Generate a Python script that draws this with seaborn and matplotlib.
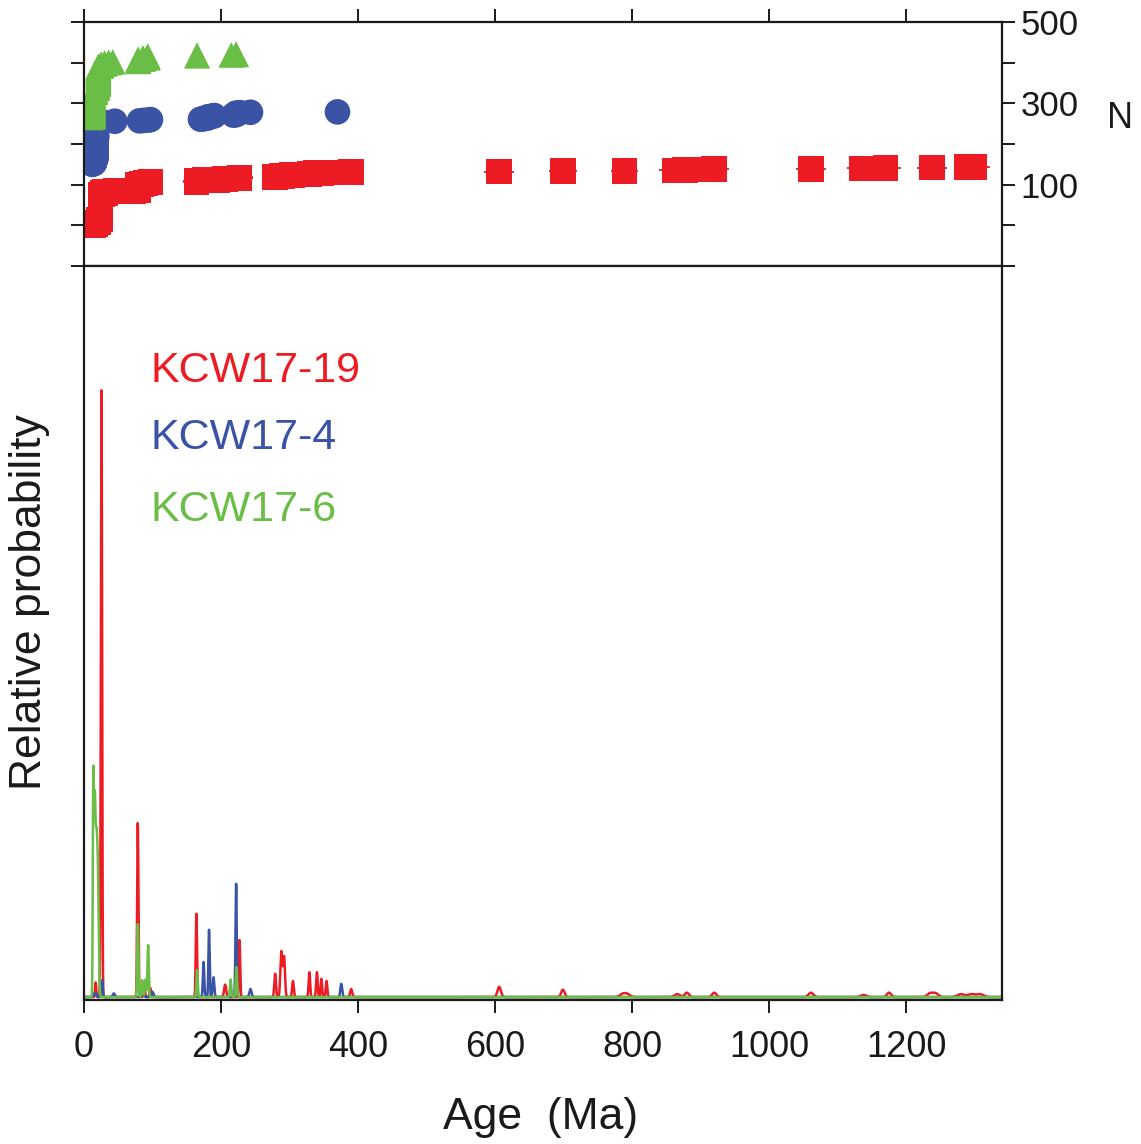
import numpy as np
import pandas as pd
import matplotlib.pyplot as plt
import seaborn as sns

plt.switch_backend('Agg')

SAMPLES = ['KCW17-19', 'KCW17-4', 'KCW17-6']
COLORS = {'KCW17-19': '#ED1C24', 'KCW17-4': '#3A53A4', 'KCW17-6': '#6ABD45'}
MARKERS = {'KCW17-19': 's', 'KCW17-4': 'o', 'KCW17-6': '^'}

# --- top panel: grain ages (Ma), grains at that age, error bar half-length (Ma)
red_ages = [13, 17, 21, 24, 27, 31, 38, 46, 72, 79, 84, 90, 97,
            164, 176, 195, 206, 222, 227, 279, 289, 304, 329, 339, 346, 354, 390,
            606, 699, 789, 862, 877, 905, 920, 1061, 1136, 1170, 1238, 1288, 1300]
red_counts = [3, 4, 6, 62, 4, 3, 1, 1, 2, 14, 2, 2, 2,
              4, 1, 1, 2, 1, 3, 2, 3, 1, 2, 2, 1, 1, 1,
              1, 1, 1, 1, 1, 1, 1, 1, 1, 1, 1, 1, 1]
red_err = [1, 1, 1, 1, 1, 1, 2, 2, 3, 3, 3, 3, 3,
           20, 8, 8, 8, 8, 20, 18, 8, 8, 8, 8, 8, 8, 18,
           22, 20, 20, 22, 10, 10, 22, 22, 22, 22, 22, 10, 22]

blue_ages = [12, 15, 17, 18, 21, 26, 45, 81, 87, 94, 97,
             170, 175, 181, 186, 190, 218, 222, 228, 243, 370]
blue_counts = [2, 10, 50, 40, 3, 1, 1, 1, 1, 1, 1,
               1, 2, 4, 1, 2, 1, 5, 1, 1, 1]
blue_err = [1, 1, 1, 1, 1, 1, 14, 10, 4, 4, 10,
            12, 4, 4, 4, 4, 4, 4, 4, 14, 18]

green_ages = [10, 13, 16, 19, 21, 25, 30, 36, 42, 79, 86, 93, 165, 215, 222]
green_counts = [2, 60, 10, 10, 45, 5, 3, 2, 1, 6, 3, 5, 2, 1, 2]
green_err = [1, 1, 1, 1, 1, 1, 1, 2, 2, 3, 3, 3, 8, 4, 4]

N_START = {'KCW17-19': 1, 'KCW17-4': 150, 'KCW17-6': 265}

# --- bottom panel: peaks of the probability curves (Ma, relative height, width Ma)
red_peak_age = [17, 25.5, 78.5, 88, 97, 164, 206, 227, 279, 288, 292, 305,
                329, 340, 346.5, 354, 390, 606, 699, 786, 793, 866, 880, 920,
                1061, 1138, 1175, 1235, 1243, 1280, 1295, 1308]
red_peak_height = [0.02, 0.83, 0.238, 0.015, 0.012, 0.114, 0.017, 0.078, 0.032, 0.062, 0.055, 0.022,
                   0.034, 0.034, 0.025, 0.022, 0.011, 0.014, 0.01, 0.004, 0.004, 0.004, 0.006, 0.006,
                   0.006, 0.003, 0.006, 0.005, 0.005, 0.004, 0.004, 0.004]
red_peak_width = [0.8, 0.9, 0.9, 1.0, 1.2, 0.9, 1.5, 0.9, 1.2, 1.4, 1.4, 1.2,
                  1.1, 1.1, 1.0, 1.1, 1.5, 2.5, 2.5, 4, 4, 4, 3, 3,
                  3.5, 4, 3, 4, 4, 5, 5, 5]

blue_peak_age = [15, 18, 26.5, 43.5, 86, 100, 174.5, 182.5, 189, 222, 243, 375.5]
blue_peak_height = [0.005, 0.005, 0.023, 0.005, 0.005, 0.007, 0.048, 0.092, 0.027, 0.155, 0.011, 0.018]
blue_peak_width = [1.0, 1.0, 0.8, 1.5, 1.5, 1.5, 1.0, 0.9, 1.2, 0.9, 1.5, 1.3]

green_peak_age = [13.5, 15.5, 18, 20.5, 78.5, 85, 89.7, 93.6, 165, 214, 222.5]
green_peak_height = [0.28, 0.22, 0.21, 0.12, 0.10, 0.023, 0.024, 0.071, 0.037, 0.024, 0.041]
green_peak_width = [0.7, 1.0, 1.5, 1.2, 0.9, 1.0, 1.0, 0.9, 0.9, 1.0, 1.0]

AGE_MAX = 1340


def grain_table():
    """One row per grain, sorted by age, with its running number N"""
    sets = {'KCW17-19': (red_ages, red_counts, red_err),
            'KCW17-4': (blue_ages, blue_counts, blue_err),
            'KCW17-6': (green_ages, green_counts, green_err)}
    frames = []
    for name, (ages, counts, err) in sets.items():
        age = np.repeat(ages, counts)
        e = np.repeat(err, counts)
        frames.append(pd.DataFrame({'sample': name, 'age': age, 'err': e,
                                    'N': N_START[name] + np.arange(len(age))}))
    return pd.concat(frames, ignore_index=True)


def prob_curves():
    x = np.arange(0, AGE_MAX + 0.01, 0.05)
    sets = {'KCW17-19': (red_peak_age, red_peak_height, red_peak_width),
            'KCW17-4': (blue_peak_age, blue_peak_height, blue_peak_width),
            'KCW17-6': (green_peak_age, green_peak_height, green_peak_width)}
    curves = {}
    for name, (a, h, w) in sets.items():
        a, h, w = np.array(a), np.array(h), np.array(w)
        curves[name] = (h[:, None] * np.exp(-0.5 * ((x[None, :] - a[:, None]) / w[:, None]) ** 2)).sum(axis=0)
    return x, curves


sns.set_style('white')
plt.rcParams['font.family'] = ['Liberation Sans', 'DejaVu Sans']
plt.rcParams['text.color'] = '#1a1a1a'
plt.rcParams['xtick.color'] = '#1a1a1a'
plt.rcParams['ytick.color'] = '#1a1a1a'

W, H = 1141, 1144
fig = plt.figure(figsize=(W / 100, H / 100), dpi=100)
L, R = 84, 1002
ax_top = fig.add_axes([L / W, 1 - 266 / H, (R - L) / W, (266 - 22) / H])
ax_bot = fig.add_axes([L / W, 1 - 1000 / H, (R - L) / W, (1000 - 266) / H])

# top panel: ages against running number
df = grain_table()
for name in SAMPLES:
    sub = df[df['sample'] == name]
    ax_top.errorbar(sub['age'], sub['N'], xerr=sub['err'], fmt='none',
                    ecolor=COLORS[name], elinewidth=1.3, capsize=0, zorder=1)
sns.scatterplot(data=df, x='age', y='N', hue='sample', style='sample',
                palette=COLORS, markers=MARKERS, s=340, linewidth=0,
                legend=False, ax=ax_top, zorder=2)

ax_top.set_xlim(0, AGE_MAX)
ax_top.set_ylim(-100, 500)
ax_top.set_xticks(range(0, 1400, 200))
ax_top.set_yticks(range(-100, 501, 100))
ax_top.set_yticklabels(['', '', '100', '', '300', '', '500'])
ax_top.tick_params(axis='x', top=True, bottom=False, labeltop=False, labelbottom=False,
                   direction='out', length=9.5, width=1.4)
ax_top.tick_params(axis='y', left=True, right=True, labelleft=False, labelright=True,
                   direction='out', length=9.5, width=1.4, labelsize=25, pad=4)
ax_top.set_xlabel('')
ax_top.set_ylabel('')

# bottom panel: relative probability curves
x, curves = prob_curves()
for name in SAMPLES:
    sns.lineplot(x=x, y=curves[name], color=COLORS[name], linewidth=1.8,
                 estimator=None, ax=ax_bot)
ax_bot.set_xlim(0, AGE_MAX)
ax_bot.set_ylim(-0.004, 1.0)
ax_bot.set_xticks(range(0, 1400, 200))
ax_bot.set_yticks([])
ax_bot.tick_params(axis='x', bottom=True, direction='out', length=9.5, width=1.4,
                   labelsize=26, pad=12)

for ax in (ax_top, ax_bot):
    for sp in ax.spines.values():
        sp.set_visible(True)
        sp.set_linewidth(1.6)
        sp.set_color('#1a1a1a')

# sample names
for name, base in zip(SAMPLES, [382, 449, 521]):
    fig.text(151 / W, 1 - base / H, name, color=COLORS[name], fontsize=31,
             ha='left', va='baseline')

fig.text(1120 / W, 1 - 118 / H, 'N', fontsize=26, ha='center', va='center')
fig.text(541 / W, 1 - 1118 / H, 'Age  (Ma)', fontsize=32, ha='center', va='center')
fig.text(30 / W, 1 - 602 / H, 'Relative probability', fontsize=32, rotation=90,
         ha='center', va='center')

fig.savefig('out.png', dpi=100)
